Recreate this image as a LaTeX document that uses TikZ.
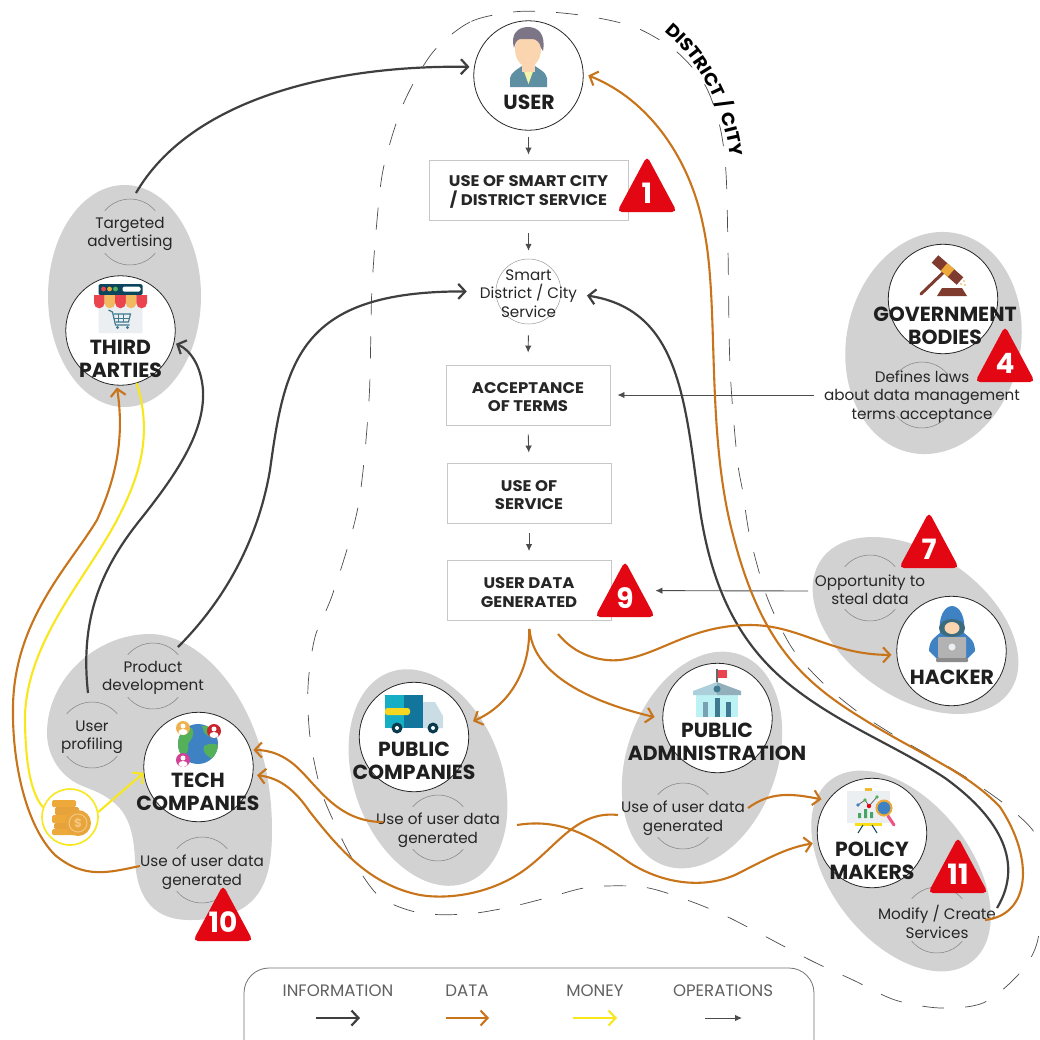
\documentclass[tikz,border=0pt]{standalone}
\usepackage{fontspec}
\setmainfont{Poppins}
\newfontfamily\widefont[FakeStretch=1.07]{Poppins}
\usetikzlibrary{arrows.meta,decorations.text}

\definecolor{blobgray}{HTML}{D2D2D2}
\definecolor{infodark}{HTML}{3F3F3F}
\definecolor{dataorange}{HTML}{C8741A}
\definecolor{moneyyellow}{HTML}{F8E71C}
\definecolor{badgered}{HTML}{E30613}
\definecolor{coinorange}{HTML}{EDA93A}
\definecolor{cooldark}{HTML}{12759B}
\definecolor{coolblue}{HTML}{3F82C4}
\definecolor{leafgreen}{HTML}{55B05A}
\definecolor{palegray}{HTML}{ECEFF1}
\definecolor{brickbrown}{HTML}{7F3B2D}
\definecolor{skin}{HTML}{FBD5B0}
\definecolor{hairgray}{HTML}{7C7585}
\definecolor{suitblue}{HTML}{5F8FA3}

\tikzset{
    blob/.style={fill=blobgray,draw=none},
    actor/.style={circle,draw=black!85,fill=white,line width=.8pt,minimum size=109.5pt,inner sep=0pt},
    heading/.style={align=center,font=\bfseries\fontsize{20.4}{23}\selectfont,text=black!88},
    usetext/.style={align=center,font=\fontsize{15.2}{18.5}\selectfont,text=black!85,yshift=-2pt},
    ringline/.style={draw=black!50,line width=.5pt},
    stepbox/.style={draw=black!22,line width=.9pt,fill=white,inner sep=0pt},
    steptext/.style={align=center,font=\widefont\bfseries\fontsize{15.4}{18.5}\selectfont,text=black!85,inner sep=0pt,yshift=-2pt},
    legendtext/.style={font=\fontsize{16.6}{17}\selectfont,text=black!62},
    infoarrow/.style={draw=infodark,line width=2.2pt,-{Straight Barb[length=7pt,width=15pt]}},
    dataarrow/.style={draw=dataorange,line width=2.1pt,-{Straight Barb[length=7pt,width=15pt]}},
    moneyarrow/.style={draw=moneyyellow,line width=2.1pt,-{Straight Barb[length=7pt,width=15pt]}},
    opsarrow/.style={draw=black!70,line width=.9pt,-{Latex[length=7pt,width=6.5pt]}},
    badgenum/.style={text=white,font=\bfseries\fontsize{28}{28}\selectfont,inner sep=0pt}
}

\newcommand{\ringtext}[4]{
    \node [usetext] (#1) at (#2,#3) {#4};
    \draw [ringline] (#2,#3) ++(40:33) arc (40:140:33);
    \draw [ringline] (#2,#3) ++(220:33) arc (220:320:33);
}
\newcommand{\redbadge}[4]{
    \fill [badgered,rounded corners=5pt] (#2-30,#3) -- (#2,#3+56) -- (#2+30,#3) -- cycle;
    \node [badgenum] (#1) at (#2,#3+19) {#4};
}

\begin{document}
\begin{tikzpicture}[x=1pt,y=1pt]
    \clip (0,0) rectangle (1040,-1039);
    \fill [white] (0,0) rectangle (1040,-1039);

    \draw [black!70,line width=.7pt,dash pattern=on 22pt off 21pt] plot [smooth cycle] coordinates {
        (513,-12) (470,-22) (433,-52) (405,-100) (388,-150) (380,-190) (372,-287) (369,-400)
        (358,-507) (333,-593) (315,-637) (308,-687) (310,-737) (320,-787) (333,-820) (353,-860)
        (380,-897) (420,-913) (467,-914) (510,-907) (550,-897) (590,-887) (643,-887) (687,-900)
        (730,-918) (810,-960) (853,-980) (895,-1000) (940,-1008) (983,-1003) (1018,-975) (1037,-943)
        (1044,-880) (1037,-837) (1012,-810) (975,-783) (937,-760) (897,-737) (858,-712) (823,-683)
        (792,-648) (767,-597) (750,-537) (743,-493) (737,-457) (730,-367) (728,-250) (726,-173)
        (720,-127) (705,-85) (677,-52) (637,-28) (593,-17) (550,-12)};
    \path [decorate,decoration={text along path,text align=center,
        text={|\widefont\bfseries\fontsize{17.6}{18}\selectfont|DISTRICT / CITY}}]
        (660,-28) .. controls (692,-52) and (724,-98) .. (731,-162);

    \fill [blob] (124.5,-296) ellipse [x radius=76.5,y radius=111];
    \fill [blob,rotate around={-12:(933.5,-343)}] (933.5,-343) ellipse [x radius=87,y radius=112];
    \fill [blob,rotate around={55:(915.5,-625.5)}] (915.5,-625.5) ellipse [x radius=72,y radius=115];
    \fill [blob] (150,-634) .. controls (205,-634) and (272,-710) .. (272,-830) .. controls (272,-880) and (262,-920) .. (190,-920)
        .. controls (155,-920) and (137,-900) .. (135,-860) .. controls (133,-815) and (120,-800) .. (85,-787)
        .. controls (60,-778) and (47,-755) .. (47,-733) .. controls (47,-680) and (95,-634) .. (150,-634) -- cycle;
    \fill [blob,rotate around={20:(428,-777.5)}] (428,-777.5) ellipse [x radius=74,y radius=112];
    \fill [blob,rotate around={-20:(702,-760)}] (702,-760) ellipse [x radius=75,y radius=112];
    \fill [blob,rotate around={38:(901,-871)}] (901,-871) ellipse [x radius=70,y radius=115];

    \ringtext{targeted}{130}{-232}{Targeted\\advertising}
    \ringtext{product}{153}{-676}{Product\\development}
    \ringtext{profiling}{92}{-735}{User\\profiling}
    \ringtext{techuse}{202}{-870}{Use of user data\\generated}
    \ringtext{pubuse}{438}{-828}{Use of user data\\generated}
    \ringtext{adminuse}{683}{-816}{Use of user data\\generated}
    \ringtext{modify}{937}{-920}{Modify / Create\\Services}
    \ringtext{opportunity}{870}{-588}{Opportunity to\\steal data}
    \ringtext{laws}{922}{-395}{Defines laws\\about data management\\terms acceptance}

    \node [actor] (user) at (528.5,-75.5) {};
    \node [actor] (third) at (120.5,-330.5) {};
    \node [actor] (gov) at (943,-299) {};
    \node [actor] (hacker) at (951.5,-651) {};
    \node [actor] (tech) at (198.5,-767) {};
    \node [actor] (pubcomp) at (414,-737) {};
    \node [actor] (admin) at (717.5,-718) {};
    \node [actor] (policy) at (872,-833) {};
    \node [circle,draw=black!40,line width=.5pt,minimum size=65pt,inner sep=0pt] (smart) at (528.5,-291.5) {};
    \node [circle,draw=moneyyellow,line width=1.6pt,fill=white,minimum size=56pt,inner sep=0pt] (money) at (70,-817) {};

    % user
    \begin{scope}[shift={(528,-48)}]
        \fill [suitblue] (-18,-39) -- (-18,-30) .. controls (-17,-24) and (-10,-21) .. (-6,-18) -- (7,-18) .. controls (11,-21) and (18,-24) .. (19,-30) -- (19,-39) -- cycle;
        \fill [palegray!70!yellow] (-6,-18) -- (7,-18) -- (0.5,-36) -- cycle;
        \fill [skin] (-6,-24) -- (7,-24) -- (7,-5) -- (-6,-5) -- cycle;
        \fill [skin] (0,-1) ellipse [x radius=13,y radius=18];
        \fill [hairgray] (-14,0) .. controls (-18,14) and (-10,21) .. (0,21) .. controls (10,21) and (18,14) .. (15,-3) -- (13,0) .. controls (12,6) and (8,9) .. (4,9) -- (-8,9) .. controls (-12,8) and (-13,4) .. (-14,0) -- cycle;
    \end{scope}

    % shop
    \begin{scope}[shift={(120.5,-308)}]
        \fill [palegray,rounded corners=1pt] (-22,-25) rectangle (22,5);
        \fill [black!40!cooldark,rounded corners=1.5pt] (-22,13) rectangle (22,24);
        \fill [badgered!75!white] (-17,19) circle (2.4);
        \fill [coinorange] (-11,19) circle (2.4);
        \fill [leafgreen] (-5,19) circle (2.4);
        \fill [white,rounded corners=1.5pt] (2,16.5) rectangle (20,21.5);
        \fill [badgered!75!white] (-26.5,13) -- (-15.9,13) -- (-15.9,5) arc (0:-180:5.3) -- cycle;
        \fill [coinorange!80!white] (-15.9,13) -- (-5.3,13) -- (-5.3,5) arc (0:-180:5.3) -- cycle;
        \fill [badgered!75!white] (-5.3,13) -- (5.3,13) -- (5.3,5) arc (0:-180:5.3) -- cycle;
        \fill [coinorange!80!white] (5.3,13) -- (15.9,13) -- (15.9,5) arc (0:-180:5.3) -- cycle;
        \fill [badgered!75!white] (15.9,13) -- (26.5,13) -- (26.5,5) arc (0:-180:5.3) -- cycle;
        \draw [cooldark!60!gray,line width=1.2pt] (-12,-2) -- (-8,-4) -- (-5,-17) -- (9,-17);
        \draw [cooldark!60!gray,line width=1.2pt] (-7,-6) -- (10,-6) -- (8,-14) -- (-5,-14);
        \draw [cooldark!60!gray,line width=.7pt] (-2,-6) -- (-2,-14) (3,-6) -- (3,-14) (-7,-10) -- (9,-10);
        \fill [cooldark!60!gray] (-3,-19.5) circle (1.7) (7,-19.5) circle (1.7);
    \end{scope}

    % gavel
    \draw [brickbrown,line width=3pt,line cap=round] (921,-294) -- (947,-269);
    \draw [brickbrown,line width=10pt] (935,-259) -- (960,-281);
    \draw [coinorange,line width=10pt] (944,-267) -- (951,-273);
    \fill [brickbrown] (937,-296) -- (967,-296) -- (962,-288) -- (942,-288) -- cycle;
    \fill [coinorange] (961,-284) circle (.9) (965,-285) circle (.9) (964,-281) circle (.9);

    % hacker
    \begin{scope}[shift={(952,-633)}]
        \fill [coolblue] (-23,-18) .. controls (-23,-6) and (-15,-3) .. (-12,0) .. controls (-14,15) and (-8,27) .. (0,27) .. controls (8,27) and (14,15) .. (12,0) .. controls (15,-3) and (23,-6) .. (23,-18) -- (15,-26) -- (-15,-26) -- cycle;
        \fill [cooldark!60!black!80] (0,5) ellipse [x radius=13,y radius=9];
        \fill [skin] (0,5) ellipse [x radius=7.5,y radius=6];
        \fill [black!30,rounded corners=1pt] (-14,-25) rectangle (14,-4);
        \fill [palegray] (0,-14) circle (3.5);
        \fill [black!45,rounded corners=1pt] (-16,-29) rectangle (16,-25);
    \end{scope}

    % truck
    \begin{scope}[shift={(414,-712)}]
        \fill [palegray!85!cooldark] (9,10) -- (21,10) -- (29,-4) -- (29,-16) -- (9,-16) -- cycle;
        \fill [coolblue!40!cyan!85!black] (-29,17) rectangle (-10,-16);
        \fill [cooldark] (-10,17) rectangle (9,-16);
        \fill [yellow!60!coinorange,rounded corners=2.5pt] (-29,4) -- (-4,4) -- (-4,-3) -- (-29,-3) -- cycle;
        \fill [cooldark!50!black] (-17,-16) circle (5.5) (19,-16) circle (5.5);
        \fill [white] (-17,-16) circle (2) (19,-16) circle (2);
    \end{scope}

    % globe
    \begin{scope}[shift={(198,-744)}]
        \fill [coolblue] (0,0) circle (20);
        \begin{scope}
            \clip (0,0) circle (20);
            \fill [leafgreen] (-22,16) -- (-6,16) .. controls (-2,8) and (-8,4) .. (-10,0) .. controls (-8,-8) and (-14,-14) .. (-20,-10) -- cycle;
            \fill [leafgreen] (4,18) -- (14,18) -- (20,6) .. controls (14,6) and (8,8) .. (6,12) -- cycle;
            \fill [leafgreen] (6,-2) .. controls (14,2) and (18,0) .. (22,-2) -- (16,-16) .. controls (10,-12) and (4,-10) .. (6,-2) -- cycle;
        \end{scope}
        \fill [coinorange!90!white] (-15,16) circle (7);
        \fill [badgered!75!gray] (16,13) circle (7);
        \fill [magenta!70!gray] (-15,-16) circle (7);
        \fill [white] (-15,18) circle (2.5) (16,15) circle (2.5) (-15,-14) circle (2.5);
        \fill [white] (-15,12) ellipse [x radius=4.5,y radius=3] (16,9) ellipse [x radius=4.5,y radius=3] (-15,-20) ellipse [x radius=4.5,y radius=3];
    \end{scope}

    % town hall
    \begin{scope}[shift={(717,-695)}]
        \fill [palegray!80!cyan] (-21,0) rectangle (21,-22);
        \fill [cooldark!35!white] (-24,0) -- (-24,4) -- (0,13) -- (0,0) -- cycle;
        \fill [cooldark!50!gray!60!white] (24,0) -- (24,4) -- (0,13) -- (0,0) -- cycle;
        \fill [cooldark!60!gray] (0,6) circle (3.5);
        \fill [cooldark!60!gray!70!white] (-14,-22) rectangle (-9,-7);
        \fill [cooldark!60!gray] (-2.5,-22) rectangle (2.5,-3);
        \fill [cooldark!60!gray] (9,-22) rectangle (14,-7);
        \draw [black!60,line width=1.2pt] (0,13) -- (0,26);
        \fill [badgered!75!white] (0.5,25) rectangle (10,17);
    \end{scope}

    % chart board
    \begin{scope}[shift={(868,-807)}]
        \fill [coinorange!80!yellow] (-3,19) rectangle (4,16);
        \fill [palegray] (-21,16) rectangle (22,-16);
        \fill [yellow!70!coinorange] (-13,-16) rectangle (14,-18.5);
        \draw [cooldark!60!black,line width=1pt] (-5,-18) -- (-10,-26) (4,-18) -- (9,-26);
        \fill [leafgreen!80!cooldark] (-10,-11) rectangle (-7,-6) (-4,-11) rectangle (-1,-2) (2,-11) rectangle (5,-5);
        \draw [black!60,line width=.8pt] (-10,2) -- (-3,7) -- (1,1) -- (9,10);
        \fill [coolblue] (-10,2) circle (1.8);
        \fill [leafgreen] (-3,7) circle (1.8) (9,10) circle (1.8);
        \fill [badgered] (1,1) circle (2.2);
        \draw [magenta!60!red!70!white,line width=3pt,line cap=round] (20,-9) -- (26,-18);
        \draw [coinorange,fill=coolblue,line width=2pt] (16,-1) circle (7.5);
    \end{scope}

    % coins
    \fill [coinorange,rounded corners=1.5pt] (52,-800) rectangle (76,-807);
    \fill [coinorange!85!brown,rounded corners=1.5pt] (55,-807) rectangle (79,-815);
    \fill [coinorange,rounded corners=1.5pt] (52,-815) rectangle (76,-823);
    \fill [coinorange!85!brown,rounded corners=1.5pt] (54,-823) rectangle (78,-829);
    \fill [coinorange,rounded corners=1.5pt] (52,-829) rectangle (76,-835);
    \fill [coinorange!90!brown] (78,-823) circle (13);
    \draw [coinorange!65!white,line width=1pt] (78,-823) circle (9);
    \node [text=coinorange!65!white,font=\bfseries\fontsize{12}{12}\selectfont,inner sep=0pt] (dollar) at (78,-823) {\$};

    \node [heading] (userlabel) at (529,-102) {USER};
    \node [heading] (thirdlabel) at (120.5,-358.5) {THIRD\\PARTIES};
    \node [heading] (govlabel) at (945,-326) {GOVERNMENT\\BODIES};
    \node [heading] (hackerlabel) at (952,-677) {HACKER};
    \node [heading] (techlabel) at (198,-792) {TECH\\COMPANIES};
    \node [heading] (pubcomplabel) at (414,-760.5) {PUBLIC\\COMPANIES};
    \node [heading] (adminlabel) at (717,-742) {PUBLIC\\ADMINISTRATION};
    \node [heading] (policylabel) at (872,-860.5) {POLICY\\MAKERS};

    \node [stepbox,minimum width=199pt,minimum height=60pt] (smartuse) at (528.5,-190) {};
    \node [steptext] (smartusetext) at (528.5,-190) {USE OF SMART CITY\\/ DISTRICT SERVICE};
    \node [usetext] (smarttext) at (528.5,-291.5) {Smart\\District / City\\Service};
    \node [stepbox,minimum width=164pt,minimum height=60pt] (accept) at (528,-395) {};
    \node [steptext] (accepttext) at (528,-395) {ACCEPTANCE\\OF TERMS};
    \node [stepbox,minimum width=164pt,minimum height=60pt] (useservice) at (529,-493) {};
    \node [steptext] (useservicetext) at (529,-493) {USE OF\\SERVICE};
    \node [stepbox,minimum width=164pt,minimum height=60pt] (userdata) at (529,-590.5) {};
    \node [steptext] (userdatatext) at (529,-590.5) {USER DATA\\GENERATED};

    \draw [opsarrow,shorten <=6pt,shorten >=5pt] (user.south) -- (smartuse.north);
    \draw [opsarrow,shorten <=13pt,shorten >=8pt] (smartuse.south) -- (smart.north);
    \draw [opsarrow,shorten <=11pt,shorten >=12pt] (smart.south) -- (accept.north);
    \draw [opsarrow,shorten <=9pt,shorten >=10pt] (accept.south) -- (useservice.north);
    \draw [opsarrow,shorten <=10pt,shorten >=9pt] (useservice.south) -- (userdata.north);
    \draw [opsarrow,shorten <=6pt,shorten >=7pt] ([yshift=2pt]laws.west) -- (accept.east);
    \draw [opsarrow,shorten >=44pt] ([shift={(-62,-1)}]opportunity.center) -- (userdata.east);

    \draw [infoarrow,shorten >=4.6pt] ([shift={(6,41)}]targeted.center) .. controls (190,-100) and (330,-65) .. (user.171);
    \draw [infoarrow,shorten >=29pt] ([shift={(25,31)}]product.center) .. controls (225,-600) and (258,-540) .. (270,-470) .. controls (285,-360) and (300,-291) .. (smart.west);
    \draw [infoarrow,shorten >=2pt] ([shift={(-4,44)}]profiling.center) .. controls (80,-620) and (100,-570) .. (140,-520) .. controls (180,-470) and (205,-430) .. (203,-390) .. controls (201,-365) and (190,-350) .. (third.-13);
    \draw [infoarrow,shorten >=26pt] ([shift={(60,14)}]modify.center) .. controls (1020,-870) and (1010,-825) .. (945,-778) .. controls (895,-745) and (840,-725) .. (790,-685) .. controls (740,-645) and (712,-590) .. (700,-510) .. controls (685,-400) and (680,-310) .. (smart.east);

    \draw [dataarrow,shorten >=5pt] ([shift={(48,2)}]modify.center) .. controls (1030,-915) and (1035,-860) .. (1000,-807) .. controls (965,-770) and (920,-755) .. (860,-717) .. controls (800,-680) and (760,-640) .. (733,-535) .. controls (705,-430) and (720,-300) .. (703,-225) .. controls (690,-160) and (650,-100) .. (user.2);
    \draw [dataarrow,shorten >=5pt] ([shift={(29,-13)}]userdata.south) .. controls (575,-655) and (600,-662) .. (620,-660) .. controls (660,-655) and (690,-625) .. (750,-625) .. controls (800,-625) and (830,-655) .. (hacker.184);
    \draw [dataarrow,shorten <=8pt,shorten >=6pt] (userdata.south) .. controls (530,-670) and (510,-705) .. (pubcomp.14);
    \draw [dataarrow,shorten <=8pt,shorten >=8pt] (userdata.south) .. controls (532,-665) and (570,-697) .. (admin.181);
    \draw [dataarrow,shorten >=2.4pt] ([shift={(-55,8)}]pubuse.center) .. controls (340,-822) and (320,-790) .. (300,-770) .. controls (285,-755) and (270,-750) .. (tech.18);
    \draw [dataarrow,shorten >=4pt] ([shift={(-65,3)}]adminuse.center) .. controls (575,-810) and (555,-850) .. (520,-873) .. controls (490,-893) and (450,-900) .. (420,-895) .. controls (370,-885) and (340,-850) .. (310,-812) .. controls (295,-790) and (280,-778) .. (tech.-8);
    \draw [dataarrow,shorten >=5pt] ([shift={(79,5)}]pubuse.center) .. controls (560,-818) and (590,-835) .. (630,-863) .. controls (660,-882) and (700,-890) .. (735,-875) .. controls (765,-860) and (785,-848) .. (policy.190);
    \draw [dataarrow,shorten >=6pt] ([shift={(65,10)}]adminuse.center) .. controls (770,-792) and (790,-793) .. (policy.144);
    \draw [dataarrow,shorten >=2pt] ([shift={(-62,6)}]techuse.center) .. controls (110,-872) and (85,-880) .. (55,-855) .. controls (25,-825) and (12,-760) .. (13,-707) .. controls (14,-620) and (70,-565) .. (97,-520) .. controls (115,-480) and (125,-440) .. (third.-94);

    \draw [draw=moneyyellow,line width=2.1pt] (money.160) .. controls (28,-790) and (25,-750) .. (25,-715) .. controls (28,-640) and (85,-580) .. (117,-520) .. controls (135,-485) and (155,-440) .. (third.-73);
    \draw [moneyarrow] (money.10) -- (tech.186);

    \redbadge{badgeone}{647}{-212}{1}
    \redbadge{badgefour}{1005}{-382}{4}
    \redbadge{badgeseven}{929}{-568}{7}
    \redbadge{badgenine}{625}{-617}{9}
    \redbadge{badgeten}{223}{-941}{10}
    \redbadge{badgeeleven}{958}{-893}{11}

    \draw [black!55,line width=.8pt,rounded corners=25pt] (244,-1065) rectangle (814,-968);
    \node [legendtext] (infolabel) at (338,-991) {INFORMATION};
    \node [legendtext] (datalabel) at (467,-991) {DATA};
    \node [legendtext] (moneylabel) at (595,-991) {MONEY};
    \node [legendtext] (opslabel) at (723,-991) {OPERATIONS};
    \draw [infoarrow] ([shift={(-22,-27)}]infolabel.center) -- ([shift={(22,-27)}]infolabel.center);
    \draw [dataarrow] ([shift={(-21,-27)}]datalabel.center) -- ([shift={(22,-27)}]datalabel.center);
    \draw [moneyarrow] ([shift={(-22,-27)}]moneylabel.center) -- ([shift={(22,-27)}]moneylabel.center);
    \draw [opsarrow] ([shift={(-18,-27)}]opslabel.center) -- ([shift={(19,-27)}]opslabel.center);
\end{tikzpicture}
\end{document}
